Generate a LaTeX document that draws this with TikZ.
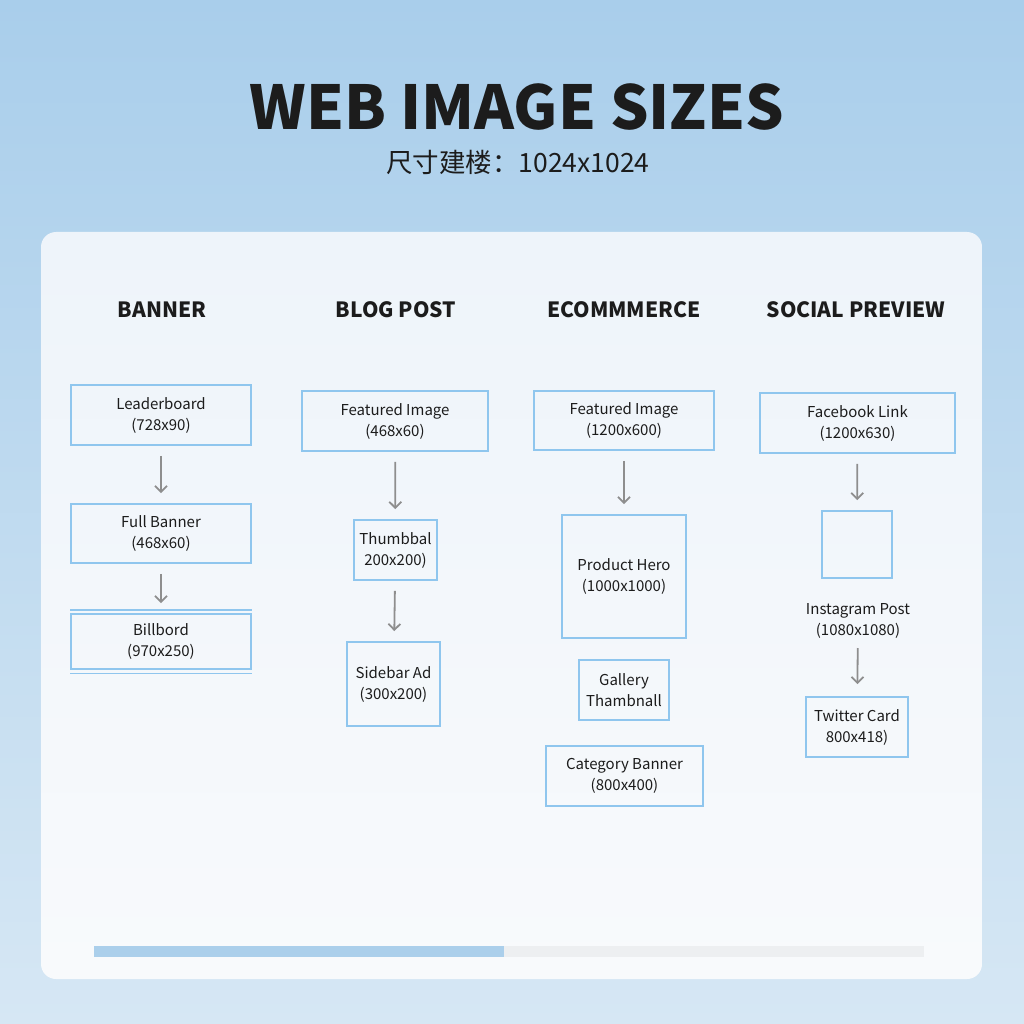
\documentclass[tikz,border=0pt]{standalone}
\usepackage{fontspec}
\setmainfont{Noto Sans CJK SC}
\usepackage{tikz}
\usetikzlibrary{arrows.meta, positioning}

\definecolor{bgtop}{HTML}{A9CEEB}
\definecolor{bgbot}{HTML}{D6E7F4}
\definecolor{paneltop}{HTML}{EEF4FA}
\definecolor{panelbot}{HTML}{F8FAFC}
\definecolor{boxblue}{HTML}{8FC6EE}
\definecolor{arrowgray}{HTML}{8E8E8E}
\definecolor{inkdark}{HTML}{1C1C1C}
\definecolor{barfill}{HTML}{ABCFEB}
\definecolor{barrest}{HTML}{EDEFF1}

\begin{document}
\begin{tikzpicture}[x=1pt, y=-1pt,
        imgbox/.style={draw=boxblue, line width=1.8pt, align=center, inner sep=0pt,
            text=inkdark, font=\fontsize{15}{21}\selectfont},
        colhead/.style={text=inkdark, font=\fontsize{21}{26}\selectfont\bfseries},
        flow/.style={-{Straight Barb[length=6pt, width=12pt]}, line width=1.8pt, arrowgray,
            shorten <=10pt, shorten >=10pt}]
        \useasboundingbox (0,0) rectangle (1024,1024);

        % Background and panel
        \shade[top color=bgtop, bottom color=bgbot] (0,0) rectangle (1024,1024);
        \shade[top color=paneltop, bottom color=panelbot, rounded corners=15pt]
            (41,232) rectangle (982,979);

        % Title
        \node[text=inkdark, font=\fontsize{60.5}{66}\selectfont\bfseries] (title) at (517,107) {WEB IMAGE SIZES};
        \node[text=inkdark, font=\fontsize{26.5}{30}\selectfont] (subtitle) at (518,162) {尺寸建楼：1024x1024};

        % Column headers
        \node[colhead] (hbanner) at (162,310) {BANNER};
        \node[colhead] (hblog) at (396,310) {BLOG POST};
        \node[colhead] (hshop) at (624,310) {ECOMMMERCE};
        \node[colhead] (hsocial) at (856,310) {SOCIAL PREVIEW};

        % Banner
        \node[imgbox, minimum width=180pt, minimum height=60pt] (lead) at (161,415) {Leaderboard\\(728x90)};
        \node[imgbox, minimum width=180pt, minimum height=59pt] (full) at (161,533.5) {Full Banner\\(468x60)};
        \node[imgbox, minimum width=180pt, minimum height=55pt] (billb) at (161,641.5) {Billbord\\(970x250)};
        \draw[draw=boxblue, line width=1.6pt] ([yshift=3pt]billb.north west) -- ([yshift=3pt]billb.north east);
        \draw[draw=boxblue, line width=1.6pt] ([yshift=-3.5pt]billb.south west) -- ([yshift=-3.5pt]billb.south east);
        \draw[flow] (lead) -- (full);
        \draw[flow] (full) -- (billb);

        % Blog post
        \node[imgbox, minimum width=186pt, minimum height=60pt] (blogfeat) at (395,421) {Featured Image\\(468x60)};
        \node[imgbox, minimum width=83pt, minimum height=60pt] (thumb) at (395.5,550) {Thumbbal\\200x200)};
        \node[imgbox, minimum width=93pt, minimum height=84pt] (sidebar) at (393.5,684) {Sidebar Ad\\(300x200)};
        \draw[flow] (blogfeat) -- (thumb);
        \draw[flow] (thumb) -- (sidebar);

        % Ecommerce
        \node[imgbox, minimum width=180pt, minimum height=59pt] (shopfeat) at (624,420.5) {Featured Image\\(1200x600)};
        \node[imgbox, minimum width=124pt, minimum height=123pt] (hero) at (624,576.5) {Product Hero\\(1000x1000)};
        \node[imgbox, minimum width=90pt, minimum height=60pt] (gallery) at (624,690) {Gallery\\Thambnall};
        \node[imgbox, minimum width=157pt, minimum height=60pt] (category) at (624.5,776) {Category Banner\\(800x400)};
        \draw[flow] (shopfeat) -- (hero);

        % Social preview
        \node[imgbox, minimum width=195pt, minimum height=60pt] (facebook) at (857.5,423) {Facebook Link\\(1200x630)};
        \node[imgbox, minimum width=70pt, minimum height=67pt] (insta) at (857,544.5) {};
        \node[align=center, text=inkdark, font=\fontsize{15}{21}\selectfont] (instalabel) at (858,621) {Instagram Post\\(1080x1080)};
        \node[imgbox, minimum width=102pt, minimum height=60pt] (twitter) at (857,727) {Twitter Card\\800x418)};
        \draw[flow] (facebook) -- (insta);
        \draw[flow, shorten <=6pt, shorten >=12pt] (instalabel) -- (twitter);

        % Progress bar
        \fill[barrest] (94,946) rectangle (924,957);
        \fill[barfill] (94,946) rectangle (504,957);
\end{tikzpicture}
\end{document}
